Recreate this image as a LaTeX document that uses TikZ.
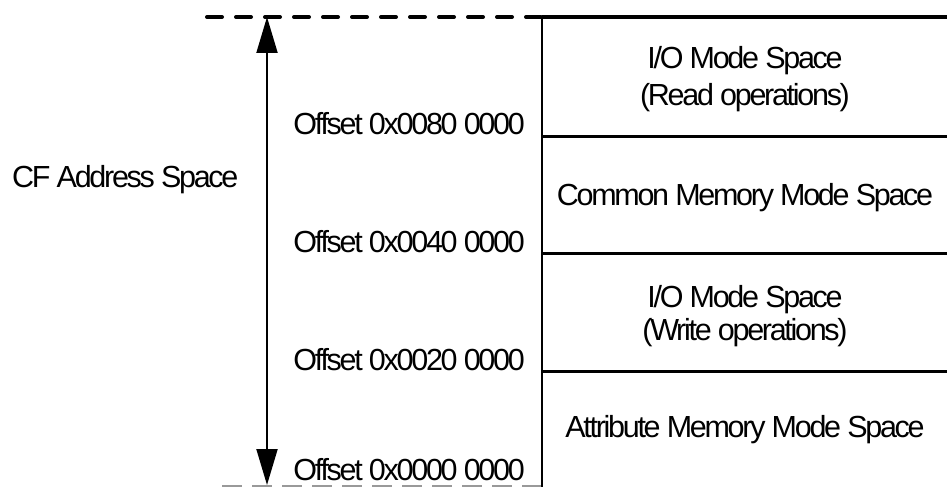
\documentclass[tikz,border=0pt]{standalone}
\usepackage{fontspec}
\setmainfont{Liberation Sans}[LetterSpace=-7.5]
\usetikzlibrary{arrows.meta}
\tikzset{
  lbl/.style={inner sep=0pt, font=\fontsize{30.5}{37}\selectfont},
  divider/.style={line width=3pt},
  topdash/.style={line width=4pt, line cap=round, dash pattern=on 15pt off 14pt},
  botdash/.style={line width=1.5pt, draw=black!40, dash pattern=on 20pt off 10pt},
  span/.style={line width=2pt, {Triangle[width=21pt,length=36pt]}-{Triangle[width=21pt,length=36pt]}}
}
\begin{document}
\begin{tikzpicture}[x=1pt,y=-1pt]
\useasboundingbox (0,0) rectangle (947,487);
% frame coordinates
\coordinate (tl) at (207,17);
\coordinate (tm) at (542,17);
\coordinate (tr) at (947,17);
\coordinate (bl) at (222,486);
\coordinate (bm) at (542,486);
\coordinate (bbox) at (542,487);
\coordinate (l1a) at (542,136); \coordinate (l1b) at (947,136);
\coordinate (l2a) at (542,253); \coordinate (l2b) at (947,253);
\coordinate (l3a) at (542,371); \coordinate (l3b) at (947,371);
\coordinate (atop) at (267,17);
\coordinate (abot) at (267,485);
% lines
\draw[topdash] (tl) -- (tm);
\draw[line width=3.5pt] (tm) -- (tr);
\draw[botdash] (bl) -- (bm);
\draw[line width=2.5pt] (tm) -- (bbox);
\draw[divider] (l1a) -- (l1b);
\draw[divider] (l2a) -- (l2b);
\draw[divider] (l3a) -- (l3b);
\draw[span] (atop) -- (abot);
% labels
\node[lbl, anchor=base west] (cf) at (12,187) {CF Address Space};
\node[lbl, anchor=base east] (o80) at (525,134) {Offset 0x0080 0000};
\node[lbl, anchor=base east] (o40) at (525,252) {Offset 0x0040 0000};
\node[lbl, anchor=base east] (o20) at (525,370) {Offset 0x0020 0000};
\node[lbl, anchor=base east] (o00) at (525,480) {Offset 0x0000 0000};
\node[lbl, anchor=base] (io1) at (745,68) {I/O Mode Space};
\node[lbl, anchor=base] (rd) at (745,105) {(Read operations)};
\node[lbl, anchor=base] (cm) at (745,205) {Common Memory Mode Space};
\node[lbl, anchor=base] (io2) at (745,307) {I/O Mode Space};
\node[lbl, anchor=base] (wr) at (745,340) {(Write operations)};
\node[lbl, anchor=base] (am) at (745,437) {Attribute Memory Mode Space};
\end{tikzpicture}
\end{document}
